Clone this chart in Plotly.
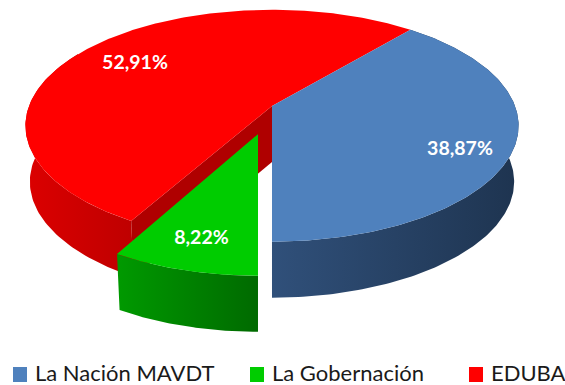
import numpy as np
import plotly.graph_objects as go

categories = ["La Nación MAVDT", "La Gobernación", "EDUBA"]
values = [38.87, 8.22, 52.91]
value_labels = ["38,87%", "8,22%", "52,91%"]
top_colors = ["#4F81BD", "#00CC00", "#FF0000"]

# view geometry of the tilted disc (pixels, y down)
CX, CY, RX, RY, K, DEPTH, SHRINK = 272, 106, 243, 112.6, 0.17, 56, 0.982
FIRST_ANGLE = 40.07
GREEN_R, GREEN_DX, GREEN_DV = 0.96, -14, 0.24


def ring(theta, r=1.0, dx=0.0, dv=0.0, lower=False):
    t = np.radians(theta)
    u = r * np.sin(t)
    v = r * np.cos(t) * -1 + dv
    s = 1 / (1 - K * v)
    f = SHRINK if lower else 1.0
    return CX + dx + RX * u * s * f, CY + RY * v * s + (DEPTH if lower else 0)


def poly(fig, xs, ys, color=None, grad=None):
    kw = dict(x=list(xs), y=list(ys), mode="lines", fill="toself", line=dict(width=0),
              hoverinfo="skip", showlegend=False)
    if grad:
        kw["fillgradient"] = dict(type="horizontal", start=grad[0], stop=grad[1],
                                  colorscale=[[0, grad[2]], [1, grad[3]]])
        kw["fillcolor"] = grad[2]
    else:
        kw["fillcolor"] = color
    fig.add_trace(go.Scatter(**kw))


spans = np.array(values) / sum(values) * 360
a0 = FIRST_ANGLE
a1 = a0 + spans[0]
a2 = a1 + spans[1]
a3 = a2 + spans[2]

fig = go.Figure()

# red outer wall
th = np.linspace(a2, 300, 80)
xt, yt = ring(th)
xb, yb = ring(th, lower=True)
poly(fig, np.r_[xt, xb[::-1]], np.r_[yt, yb[::-1]], grad=(25, 135, "#DC0000", "#BE0000"))

# red inner wall
xa, ya = ring(np.array([a2, a2]), r=0.0)
xc, yc = ring(np.array([a2]))
xd, yd = ring(np.array([a2]), lower=True)
xe, ye = ring(np.array([a2]), r=0.0, lower=True)
poly(fig, [xa[0], xc[0], xd[0], xe[0]], [ya[0], yc[0], yd[0], ye[0]], color="#AF0000")

# red top
th = np.linspace(a2, a3, 240)
xt, yt = ring(th)
xa, ya = ring(np.array([0.0]), r=0.0)
poly(fig, np.r_[xa, xt], np.r_[ya, yt], color=top_colors[2])

# blue wall and top
th = np.linspace(a0, a1, 160)
xt, yt = ring(th)
xb, yb = ring(th, lower=True)
poly(fig, np.r_[xt, xb[::-1]], np.r_[yt, yb[::-1]], grad=(272, 518, "#30507A", "#1E3450"))
poly(fig, np.r_[xa, xt], np.r_[ya, yt], color=top_colors[0])

# green wall and top
th = np.linspace(a1, a2, 60)
xt, yt = ring(th, GREEN_R, GREEN_DX, GREEN_DV)
xb, yb = ring(th, GREEN_R, GREEN_DX, GREEN_DV, lower=True)
poly(fig, np.r_[xt, xb[::-1]], np.r_[yt, yb[::-1]], grad=(116, 258, "#009A00", "#006A00"))
xg, yg = ring(np.array([a1]), 0.0, GREEN_DX, GREEN_DV)
poly(fig, np.r_[xg, xt], np.r_[yg, yt], color=top_colors[1])

# value labels
label_font = dict(family="Lato, Open Sans, sans-serif", size=19.5, color="white", weight="bold")
fig.add_trace(go.Scatter(
    x=[460, 201.5, 135], y=[150, 239, 64], mode="text", text=value_labels,
    textfont=label_font, textposition="middle center", hoverinfo="skip", showlegend=False))

shapes = []
annotations = []
for name, color, sq, tx in zip(categories, top_colors, [13, 250, 469], [35, 272, 491]):
    shapes.append(dict(type="rect", xref="x", yref="y", x0=sq, x1=sq + 14, y0=367, y1=382,
                       fillcolor=color, line=dict(width=0)))
    annotations.append(dict(xref="x", yref="y", x=tx, y=372, text=name, showarrow=False,
                            xanchor="left", yanchor="middle", xshift=-2,
                            font=dict(family="Lato, Open Sans, sans-serif", size=22, color="#1A1A1A")))

fig.update_layout(
    width=565, height=385, margin=dict(l=0, r=0, t=0, b=0),
    paper_bgcolor="white", plot_bgcolor="white", showlegend=False,
    xaxis=dict(range=[0, 565], visible=False, fixedrange=True),
    yaxis=dict(range=[385, 0], visible=False, fixedrange=True),
    shapes=shapes, annotations=annotations,
)
fig.write_html(
    "out.html",
    config={"displayModeBar": False},
    post_script="document.body.style.margin='0';document.documentElement.style.overflow='hidden';",
)
